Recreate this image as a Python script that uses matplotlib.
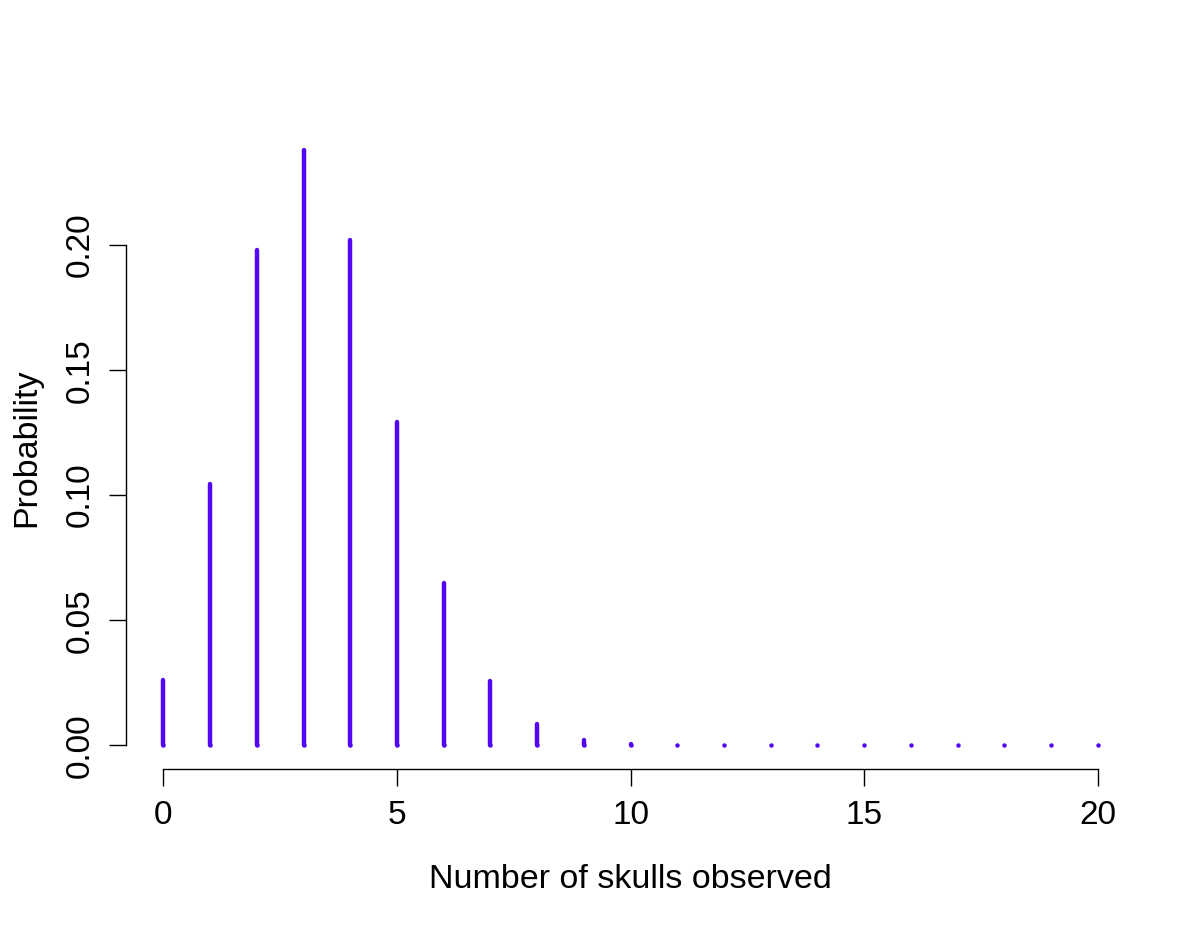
import matplotlib
matplotlib.use("Agg")
import matplotlib.pyplot as plt

# number of skulls and their probabilities
skulls = list(range(21))
probs = [0.0261, 0.1043, 0.1982, 0.2379, 0.2022, 0.1294, 0.0647, 0.0259,
         0.0084, 0.0022, 0.0005, 0.0001, 0.0, 0.0, 0.0, 0.0, 0.0, 0.0,
         0.0, 0.0, 0.0]
x_ticks = [0, 5, 10, 15, 20]
y_ticks = [0.00, 0.05, 0.10, 0.15, 0.20]
y_tick_labels = ["0.00", "0.05", "0.10", "0.15", "0.20"]

plt.rcParams["font.family"] = ["Liberation Sans", "DejaVu Sans"]

fig = plt.figure(figsize=(12, 9.27), dpi=100)
ax = fig.add_axes([0.105, 0.1704, 0.841, 0.6931])

ax.vlines(skulls, 0, probs, color="#5206F2", linewidth=3.2, capstyle="round")
# tiny dots so zero-probability positions still show up
ax.plot(skulls, [0] * len(skulls), linestyle="none", marker="o",
        markersize=3.2, color="#5206F2", markeredgewidth=0)

ax.set_xlim(-0.8, 20.8)
ax.set_ylim(-0.0095, 0.2474)

for side in ["top", "right"]:
    ax.spines[side].set_visible(False)
ax.spines["left"].set_bounds(0, 0.2)
ax.spines["bottom"].set_bounds(0, 20)
for side in ["left", "bottom"]:
    ax.spines[side].set_linewidth(1.0)

ax.set_xticks(x_ticks)
ax.set_yticks(y_ticks)
ax.set_yticklabels(y_tick_labels, rotation=90, va="center")
ax.tick_params(axis="both", length=12, width=1.0, labelsize=24, pad=10)

ax.set_xlabel("Number of skulls observed", fontsize=24.5, labelpad=24)
ax.set_ylabel("Probability", fontsize=24.5, labelpad=16)

fig.savefig("out.png", dpi=100)
